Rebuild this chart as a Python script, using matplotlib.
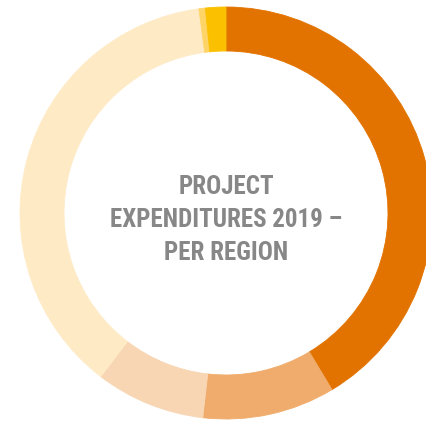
import matplotlib.pyplot as plt

# expenditure share per region (percent), clockwise from 12 o'clock
regions = ['Region A', 'Region B', 'Region C', 'Region D', 'Region E', 'Region F']
shares = [41.4, 10.4, 8.6, 37.5, 0.5, 1.6]
colors = ['#E27300', '#F0AC6C', '#F8D6B4', '#FEEBC6', '#FFD467', '#FBC000']

title_lines = ['PROJECT', 'EXPENDITURES 2019 \u2013', 'PER REGION']

fig = plt.figure(figsize=(4.27, 4.21), dpi=100)
ax = fig.add_axes([0, 0, 1, 1])

ax.pie(shares, colors=colors, startangle=90, counterclock=False,
       center=(226, 208), radius=206,
       wedgeprops=dict(width=44, linewidth=0.6, antialiased=True))
for w, c in zip(ax.patches, colors):
    w.set_edgecolor(c)
ax.set_xlim(0, 427)
ax.set_ylim(0, 421)
ax.set_aspect('equal')
ax.axis('off')

ax.text(226, 201, '\n'.join(title_lines), ha='center', va='center',
        fontsize=18, fontweight='bold', color='#878787', stretch='condensed',
        family=['Roboto Condensed', 'Roboto', 'DejaVu Sans'], linespacing=1.45)

fig.savefig('out.png', dpi=100)
